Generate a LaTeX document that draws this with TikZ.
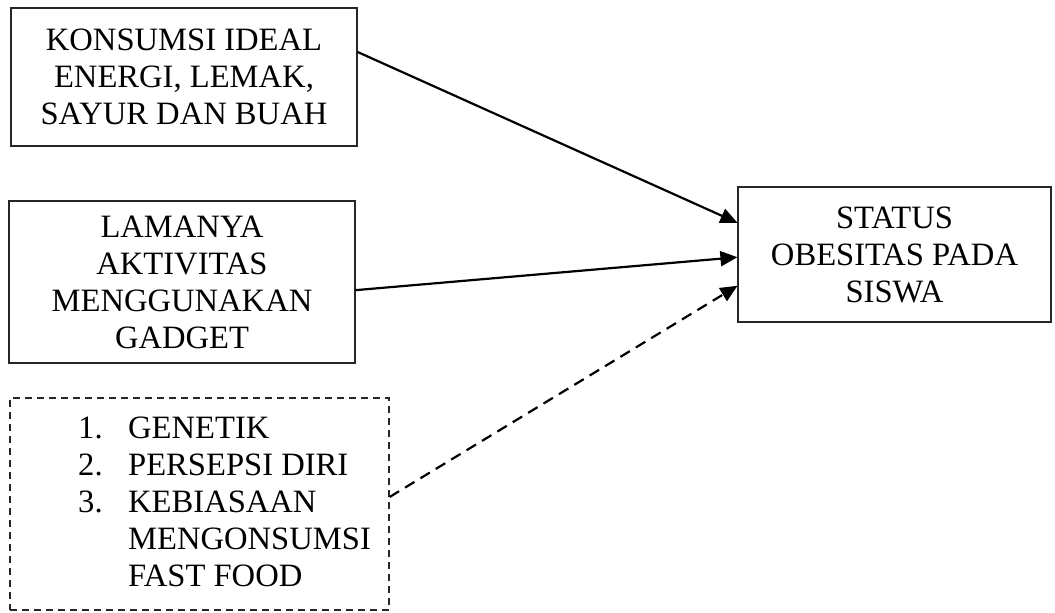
\documentclass[tikz,border=0pt]{standalone}
\usepackage{fontspec}
\setmainfont{Liberation Serif}
\usetikzlibrary{arrows.meta,calc}
\begin{document}
\begin{tikzpicture}[x=1pt,y=-1pt,
  txt/.style={font=\fontsize{32.6}{37}\selectfont},
  solidbox/.style={draw=black!85,line width=1.1pt,inner sep=0pt,align=center,txt},
  dashbox/.style={draw=black!85,line width=1.3pt,dash pattern=on 7pt off 5pt,inner sep=0pt},
  conn/.style={line width=2.2pt,-{Triangle[length=17pt,width=15pt]}},
  dconn/.style={conn,dash pattern=on 11pt off 7pt}]
\useasboundingbox (0,0) rectangle (1055,613);
\node[solidbox,minimum width=346pt,minimum height=138pt] (b1) at (184,77)
  {KONSUMSI IDEAL\\ENERGI, LEMAK,\\SAYUR DAN BUAH};
\node[solidbox,minimum width=346pt,minimum height=162pt] (b2) at (182,282)
  {LAMANYA\\AKTIVITAS\\MENGGUNAKAN\\GADGET};
\node[dashbox,minimum width=379pt,minimum height=212pt] (b3) at (199.5,504) {};
\node[txt,anchor=west,align=left,inner sep=0pt] (list) at (78,502)
  {\makebox[50pt][l]{1.}GENETIK\\
   \makebox[50pt][l]{2.}PERSEPSI DIRI\\
   \makebox[50pt][l]{3.}KEBIASAAN\\
   \hspace*{50pt}MENGONSUMSI\\
   \hspace*{50pt}FAST FOOD};
\node[solidbox,minimum width=313pt,minimum height=135pt] (b4) at (894.5,254.5)
  {STATUS\\OBESITAS PADA\\SISWA};
\draw[conn] ($(b1.north east)!0.32!(b1.south east)$) -- ($(b4.north west)!0.267!(b4.south west)$);
\draw[conn] ($(b2.north east)!0.55!(b2.south east)$) -- ($(b4.north west)!0.52!(b4.south west)$);
\draw[dconn] ($(b3.north east)!0.467!(b3.south east)$) -- ($(b4.north west)!0.73!(b4.south west)$);
\end{tikzpicture}
\end{document}
